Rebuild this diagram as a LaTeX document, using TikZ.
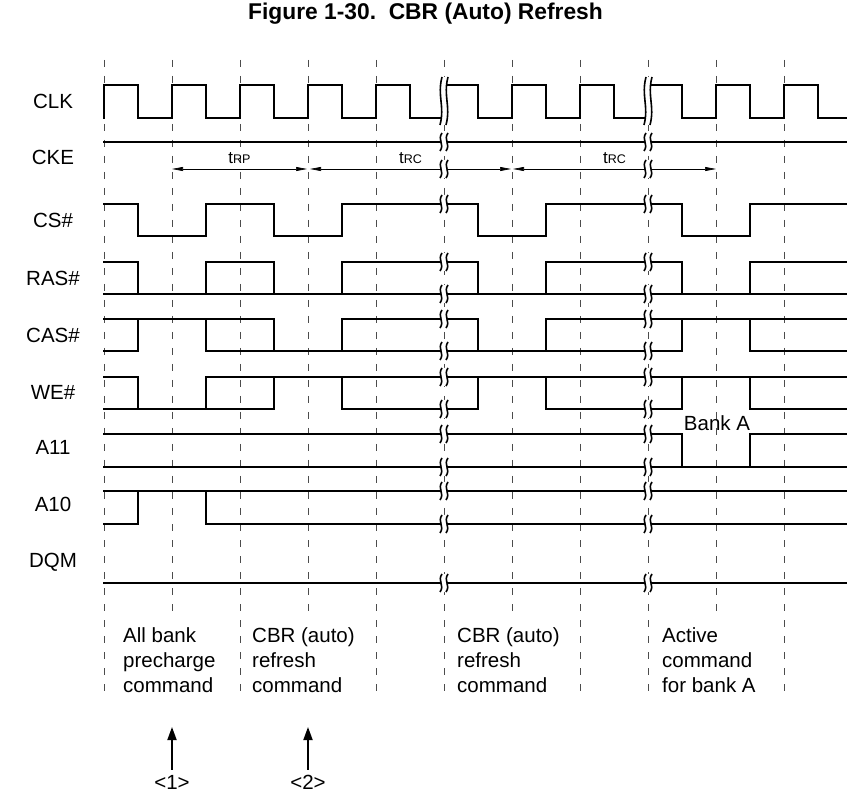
\documentclass[tikz,border=0pt]{standalone}
\usepackage{fontspec}
\setmainfont{Liberation Sans}
\usetikzlibrary{arrows.meta}

% break mark across a signal line: x, y, half height
\newcommand{\wbreak}[3]{%
  \fill[white] (#1-2,#2-#3) .. controls (#1-7,#2-0.2*#3) and (#1+1,#2+0.2*#3) .. (#1-4,#2+#3)
    -- (#1+2,#2+#3) .. controls (#1+7,#2+0.2*#3) and (#1-1,#2-0.2*#3) .. (#1+4,#2-#3) -- cycle;
  \draw[brkl] (#1-2,#2-#3) .. controls (#1-7,#2-0.2*#3) and (#1+1,#2+0.2*#3) .. (#1-4,#2+#3);
  \draw[brkl] (#1+4,#2-#3) .. controls (#1-1,#2-0.2*#3) and (#1+7,#2+0.2*#3) .. (#1+2,#2+#3);
}

\begin{document}
\begin{tikzpicture}
[x=1pt,y=-1pt,
sig/.style={line width=1.6pt,line cap=rect,line join=miter},
brkl/.style={line width=1.6pt},
guide/.style={black!70,line width=0.7pt,dash pattern=on 7pt off 9pt},
dimarr/.style={{Triangle[length=11pt,width=4pt]}-{Triangle[length=11pt,width=4pt]},line width=0.6pt},
uparr/.style={-{Triangle[length=13pt,width=9pt]},line width=1.8pt},
lbl/.style={font=\fontsize{20.5}{24}\selectfont,inner sep=0pt},
note/.style={font=\fontsize{20.5}{25}\selectfont,inner sep=0pt,align=left,anchor=north west},
tlbl/.style={font=\fontsize{17}{17}\selectfont,inner sep=0pt,above=5pt}]

\useasboundingbox (0,0) rectangle (847,794);

\node[font=\bfseries\fontsize{22.8}{26}\selectfont] (title) at (425.5,14) {Figure 1-30.\ \ CBR (Auto) Refresh};

% clock grid (short ones stop above the command texts)
\foreach \x in {104,240,376,444,580,648,784} \draw[guide] (\x,60) -- (\x,697);
\foreach \x in {172,308,512,716} \draw[guide] (\x,60) -- (\x,614);

% signal names
\node[lbl] (clk)  at (53,101) {CLK};
\node[lbl] (cke)  at (53,157) {CKE};
\node[lbl] (cs)   at (53,220) {CS\#};
\node[lbl] (ras)  at (53,278) {RAS\#};
\node[lbl] (cas)  at (53,335) {CAS\#};
\node[lbl] (we)   at (53,392) {WE\#};
\node[lbl] (a11)  at (53,447) {A11};
\node[lbl] (a10)  at (53,504) {A10};
\node[lbl] (dqm)  at (53,562) {DQM};

% CLK
\draw[sig] (104,118) \foreach \k in {0,...,9} { -- (104+68*\k,85) -- (138+68*\k,85) -- (138+68*\k,118) -- (172+68*\k,118) }
  -- (784,85) -- (818,85) -- (818,118) -- (846,118);
% CKE
\draw[sig] (104,142) -- (846,142);
% CS#
\draw[sig] (104,204) -- (138,204) -- (138,236) -- (206,236) -- (206,204) -- (274,204) -- (274,236) -- (342,236) -- (342,204)
  -- (478,204) -- (478,236) -- (546,236) -- (546,204) -- (682,204) -- (682,236) -- (750,236) -- (750,204) -- (846,204);
% RAS#
\draw[sig] (104,262) -- (138,262) (206,262) -- (274,262) (342,262) -- (478,262) (546,262) -- (682,262) (750,262) -- (846,262);
\draw[sig] (104,294) -- (846,294);
\foreach \x in {138,206,274,342,478,546,682,750} \draw[sig] (\x,262) -- (\x,294);
% CAS#
\draw[sig] (104,319) -- (274,319) (342,319) -- (478,319) (546,319) -- (846,319);
\draw[sig] (104,351) -- (138,351) (206,351) -- (682,351) (750,351) -- (846,351);
\foreach \x in {138,206,274,342,478,546,682,750} \draw[sig] (\x,319) -- (\x,351);
% WE#
\draw[sig] (104,377) -- (138,377) (206,377) -- (846,377);
\draw[sig] (104,409) -- (274,409) (342,409) -- (478,409) (546,409) -- (682,409) (750,409) -- (846,409);
\foreach \x in {138,206,274,342,478,546,682,750} \draw[sig] (\x,377) -- (\x,409);
% A11
\draw[sig] (104,434) -- (682,434) (750,434) -- (846,434);
\draw[sig] (104,467) -- (846,467);
\foreach \x in {682,750} \draw[sig] (\x,434) -- (\x,467);
\node[lbl] (banka) at (717,423) {Bank A};
% A10
\draw[sig] (104,491) -- (846,491);
\draw[sig] (104,524) -- (138,524) (206,524) -- (846,524);
\foreach \x in {138,206} \draw[sig] (\x,491) -- (\x,524);
% DQM
\draw[sig] (104,583) -- (846,583);

% timing
\coordinate (rpa) at (172,169);
\coordinate (rpb) at (307,169);
\coordinate (rca) at (310,169);
\coordinate (rcb) at (511,169);
\coordinate (rcc) at (513,169);
\coordinate (rcd) at (716,169);
\draw[dimarr] (rpa) -- node[midway,tlbl] {t{\fontsize{12.5}{12.5}\selectfont RP}} (rpb);
\draw[dimarr] (rca) -- node[midway,tlbl] {t{\fontsize{12.5}{12.5}\selectfont RC}} (rcb);
\draw[dimarr] (rcc) -- node[midway,tlbl] {t{\fontsize{12.5}{12.5}\selectfont RC}} (rcd);

% breaks
\foreach \bx in {444,648} {
  \wbreak{\bx}{101}{24}
  \foreach \by in {142,169,204,262,294,319,351,377,409,434,467,491,524,583} {\wbreak{\bx}{\by}{9}}
}

% commands
\node[note] (cmd1) at (123,627) {All bank\\precharge\\command};
\node[note] (cmd2) at (252,627) {CBR (auto)\\refresh\\command};
\node[note] (cmd3) at (457,627) {CBR (auto)\\refresh\\command};
\node[note] (cmd4) at (662,627) {Active\\command\\for bank A};

\node[lbl] (n1) at (172,782) {<1>};
\node[lbl] (n2) at (308,782) {<2>};
\coordinate (p1) at (172,727);
\coordinate (p2) at (308,727);
\draw[uparr,shorten <=5pt] (n1.north) -- (p1);
\draw[uparr,shorten <=5pt] (n2.north) -- (p2);
\end{tikzpicture}
\end{document}
